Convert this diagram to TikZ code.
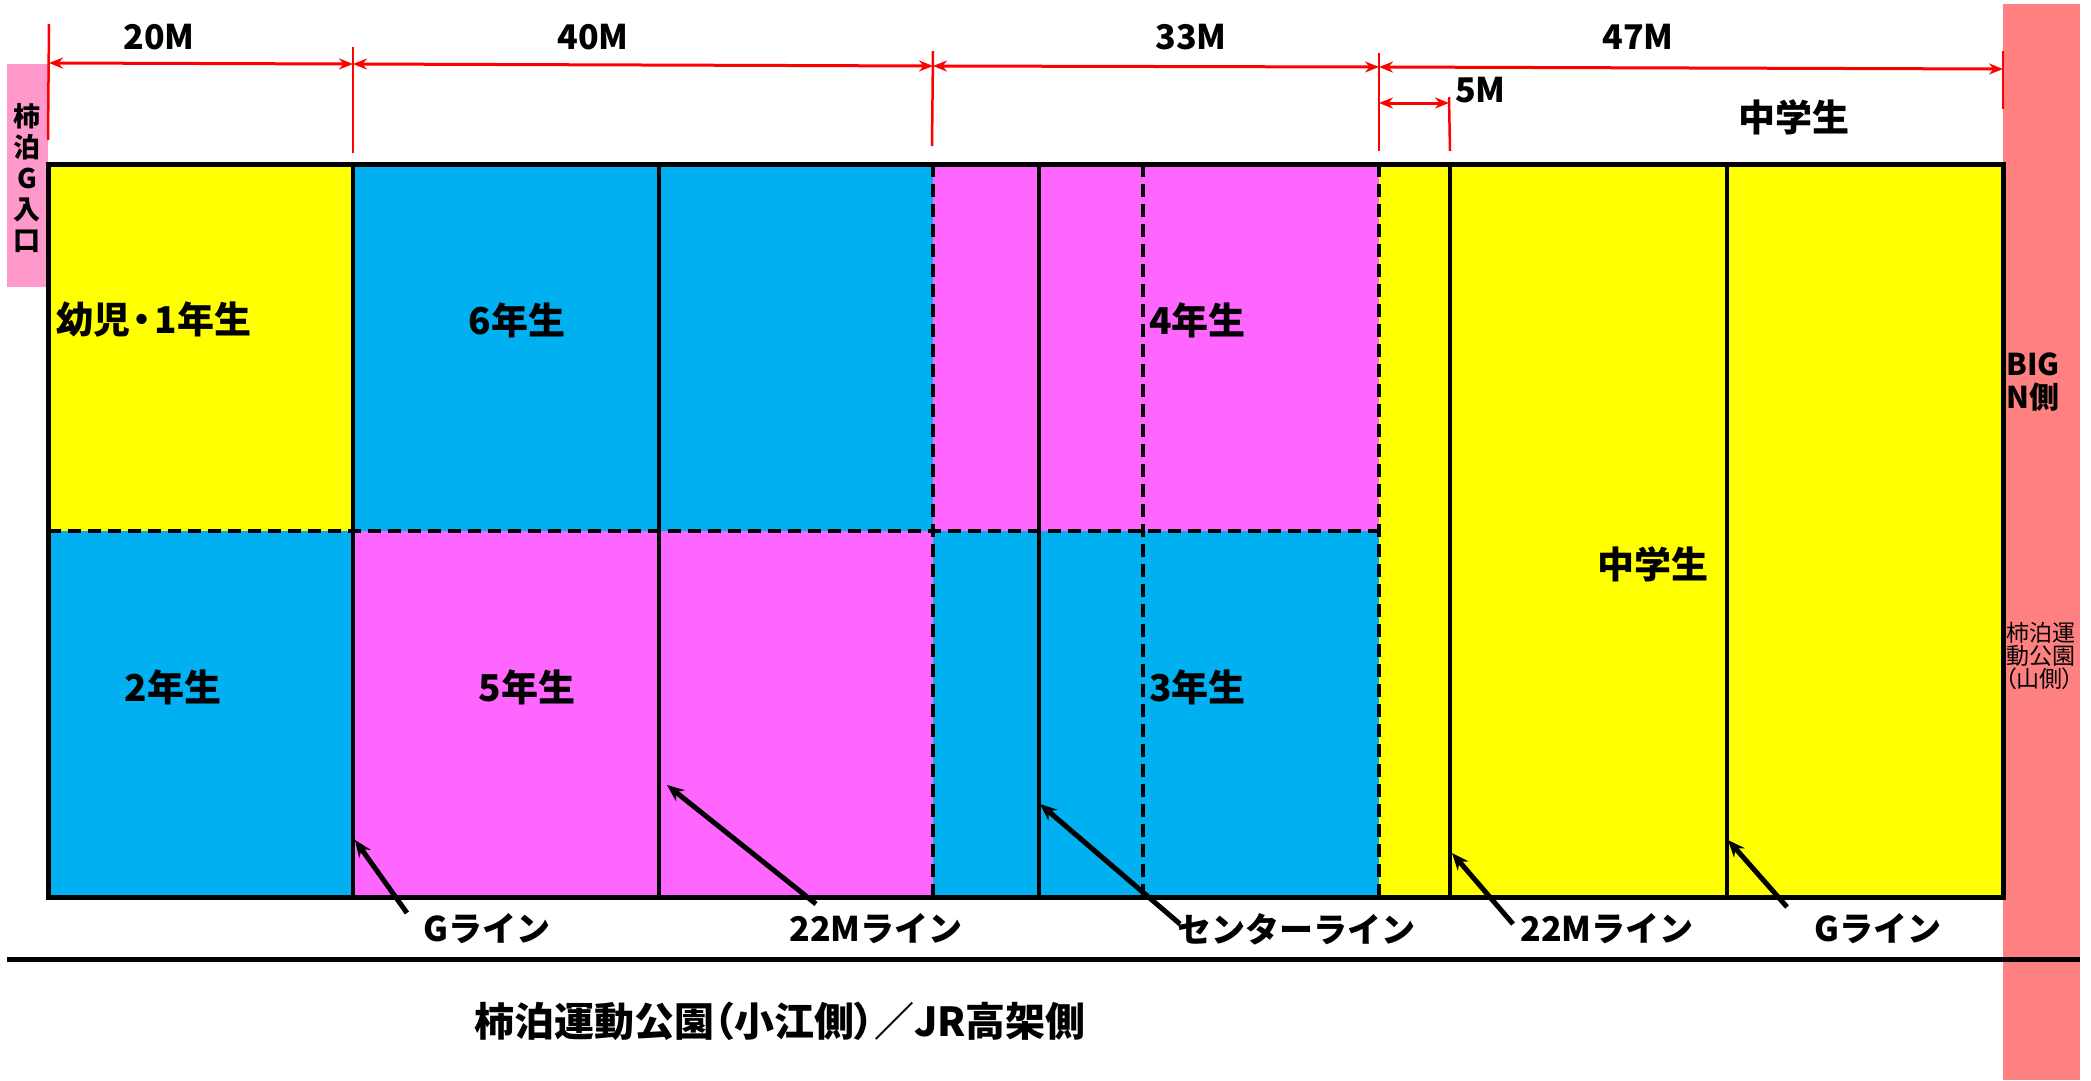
\documentclass[tikz,border=0pt]{standalone}
\usepackage{fontspec}
\setmainfont{Noto Sans CJK JP}
\newfontfamily\jpp{Noto Sans CJK JP}[RawFeature=+palt]
\usetikzlibrary{arrows.meta}
\definecolor{cyel}{HTML}{FFFF00}
\definecolor{cblu}{HTML}{00B0F0}
\definecolor{cmag}{HTML}{FF66FF}
\definecolor{csal}{HTML}{FF8080}
\definecolor{cpnk}{HTML}{FF99CC}
\definecolor{cred}{HTML}{FF0000}
\begin{document}
\begin{tikzpicture}[x=1pt,y=-1pt,
  lbl/.style={font=\bfseries\fontsize{37}{40}\selectfont, inner sep=0pt},
  dimlbl/.style={font=\bfseries\fontsize{34}{38}\selectfont, inner sep=0pt},
  linelbl/.style={font=\bfseries\fontsize{34}{38}\selectfont, inner sep=0pt},
  solidln/.style={line width=3.5pt},
  dashln/.style={line width=3.5pt, dash pattern=on 13pt off 7pt},
  redtick/.style={cred, line width=2.5pt},
  dimarrow/.style={cred, line width=3pt, {Stealth[length=14pt,width=11pt]}-{Stealth[length=14pt,width=11pt]}},
  ptr/.style={line width=5pt, -{Stealth[length=17pt,width=14pt]}}
]
\useasboundingbox (0,0) rectangle (2091,1080);
\fill[white] (0,0) rectangle (2091,1080);
% fills
\fill[cyel] (48,164) rectangle (353,531);
\fill[cblu] (353,164) rectangle (933,531);
\fill[cmag] (933,164) rectangle (1379,531);
\fill[cblu] (48,531) rectangle (353,897);
\fill[cmag] (353,531) rectangle (933,897);
\fill[cblu] (933,531) rectangle (1379,897);
\fill[cyel] (1379,164) rectangle (2003,897);
\fill[csal] (2003,4) rectangle (2080,1080);
\fill[cpnk] (7,64) rectangle (48,287);
% inner lines
\draw[dashln] (48,531) -- (1379,531);
\foreach \x in {353,659,1039,1450,1727} \draw[solidln] (\x,164) -- (\x,897);
\foreach \x in {933,1143,1379} \draw[dashln] (\x,164) -- (\x,897);
\draw[line width=5pt] (48,164) rectangle (2003,897);
% bottom line
\draw[line width=5pt] (7,959) -- (2080,959);
% dimension ticks
\draw[redtick] (49,24) -- (48,140);
\draw[redtick] (353,47) -- (353,153);
\draw[redtick] (933,51) -- (932,146);
\draw[redtick] (1379,53) -- (1379,151);
\draw[redtick] (1449,97) -- (1450,151);
\draw[redtick] (2003,51) -- (2003,109);
\coordinate (d0) at (49,63);
\coordinate (d1) at (353,64);
\coordinate (d1b) at (353,64);
\coordinate (d2) at (933,66);
\coordinate (d2b) at (933,66);
\coordinate (d3) at (1379,67);
\coordinate (d3b) at (1379,67);
\coordinate (d4) at (2003,69);
\coordinate (f0) at (1379,103);
\coordinate (f1) at (1449,103);
\draw[dimarrow] (d0) -- (d1);
\draw[dimarrow] (d1b) -- (d2);
\draw[dimarrow] (d2b) -- (d3);
\draw[dimarrow] (d3b) -- (d4);
\draw[dimarrow] (f0) -- (f1);
% dimension labels
\node[dimlbl] (m20) at (159,37) {20M};
\node[dimlbl] (m40) at (593,37) {40M};
\node[dimlbl] (m33) at (1191,37) {33M};
\node[dimlbl] (m47) at (1638,37) {47M};
\node[dimlbl, anchor=west] (m5) at (1455,90) {5M};
\node[lbl] (jhtop) at (1794,117) {中学生};
% cell labels
\node[lbl, anchor=west] (c1) at (56,320) {幼児\kern3pt{\jpp ・}\kern3pt 1年生};
\node[lbl] (c6) at (517,320) {6年生};
\node[lbl, anchor=west] (c4) at (1149,320) {4年生};
\node[lbl] (c2) at (173,687) {2年生};
\node[lbl] (c5) at (527,687) {5年生};
\node[lbl, anchor=west] (c3) at (1149,687) {3年生};
\node[lbl] (jhmid) at (1653,564) {中学生};
% side texts
\node[align=center, font=\bfseries\fontsize{27}{31}\selectfont, inner sep=0pt] (entr) at (27,178) {柿\\泊\\G\\入\\口};
\node[anchor=west, font=\bfseries\fontsize{30}{32}\selectfont, inner sep=0pt] (big1) at (2006,364) {BIG};
\node[anchor=west, font=\bfseries\fontsize{30}{32}\selectfont, inner sep=0pt] (big2) at (2006,397) {N側};
\node[anchor=west, font=\jpp\fontsize{23}{26}\selectfont, inner sep=0pt] (yama1) at (2006,633) {柿泊運};
\node[anchor=west, font=\jpp\fontsize{23}{26}\selectfont, inner sep=0pt] (yama2) at (2006,656) {動公園};
\node[anchor=west, font=\jpp\fontsize{23}{26}\selectfont, inner sep=0pt] (yama3) at (2005,679) {（山側）};
% bottom caption
\node[font=\jpp\bfseries\fontsize{40}{44}\selectfont, inner sep=0pt] (cap) at (780,1021) {柿泊運動公園（小江側）／JR高架側};
% line labels
\node[linelbl] (l1) at (487,929) {Gライン};
\node[linelbl] (l2) at (876,929) {22Mライン};
\node[linelbl] (l3) at (1296,929) {センターライン};
\node[linelbl] (l4) at (1607,929) {22Mライン};
\node[linelbl] (l5) at (1878,929) {Gライン};
% pointers
\coordinate (h1) at (355,840); \coordinate (s1) at (407,913);
\coordinate (h2) at (667,785); \coordinate (s2) at (816,904);
\coordinate (h3) at (1040,804); \coordinate (s3) at (1180,924);
\coordinate (h4) at (1452,853); \coordinate (s4) at (1513,924);
\coordinate (h5) at (1728,840); \coordinate (s5) at (1787,907);
\draw[ptr] (s1) -- (h1);
\draw[ptr] (s2) -- (h2);
\draw[ptr] (s3) -- (h3);
\draw[ptr] (s4) -- (h4);
\draw[ptr] (s5) -- (h5);
\end{tikzpicture}
\end{document}
